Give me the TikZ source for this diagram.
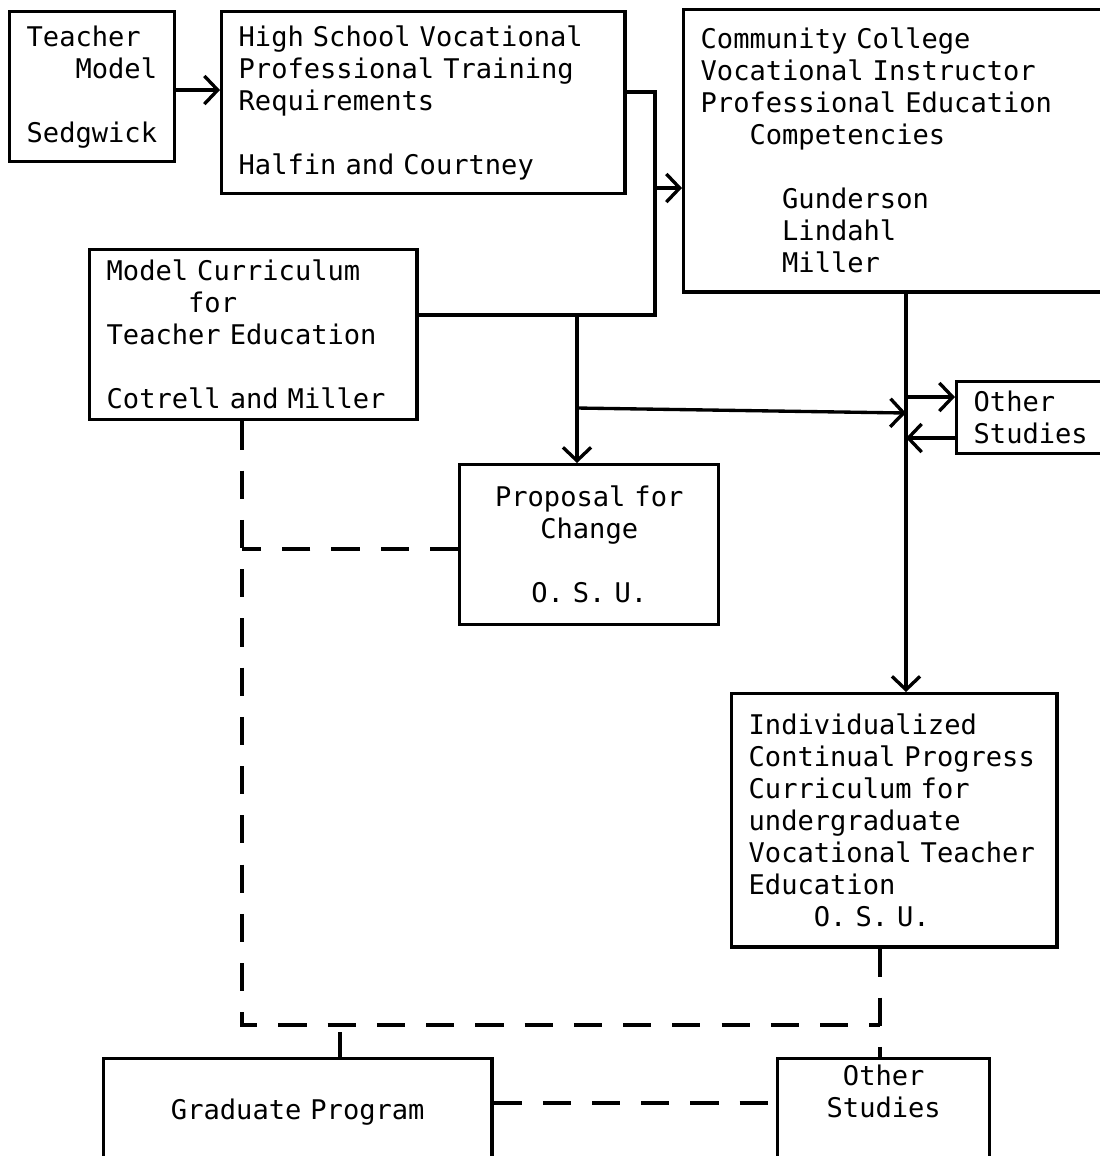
\documentclass[tikz,border=0pt]{standalone}
\usepackage{fontspec}
\usepackage{tikz}
\usetikzlibrary{calc,positioning,arrows.meta}
\newfontfamily\typew{DejaVu Sans Mono}

\tikzset{
  blk/.style={draw, line width=0.95pt, anchor=north west, inner xsep=0.17cm, inner ysep=0pt,
              align=left, font=\typew\fontsize{7.7pt}{9.1pt}\selectfont},
  ctr/.style={blk, align=center},
  lnk/.style={line width=0.95pt},
  dsh/.style={line width=0.95pt, dash pattern=on 8pt off 6pt},
  >={Straight Barb[length=3.8pt,width=8pt]}
}

\begin{document}
\begin{tikzpicture}[x=0.01cm,y=-0.01cm]
  \clip (0,0) rectangle (1100,1156);
  % boxes
  \node[blk, text width=1.31cm, minimum height=1.50cm] (teacher) at (8,10)
     {Teacher\\\hspace{3\fontcharwd\font`M}Model\\[9.1pt]Sedgwick};
  \node[blk, text width=3.69cm, minimum height=1.82cm] (hsreq) at (220,10)
     {High School Vocational\\Professional Training\\Requirements\\[9.1pt]Halfin and Courtney};
  \node[blk, text width=4.06cm, minimum height=2.82cm] (ccvi) at (682,8)
     {Community College\\Vocational Instructor\\Professional Education\\
      \hspace{3\fontcharwd\font`M}Competencies\\[9.1pt]
      \hspace{5\fontcharwd\font`M}Gunderson\\\hspace{5\fontcharwd\font`M}Lindahl\\
      \hspace{5\fontcharwd\font`M}Miller};
  \node[blk, text width=2.93cm, minimum height=1.70cm] (modelcur) at (88,248)
     {Model Curriculum\\\hspace{5\fontcharwd\font`M}for\\Teacher Education\\[9.1pt]Cotrell and Miller};
  \node[ctr, text width=2.25cm, minimum height=1.60cm] (proposal) at (458,463)
     {Proposal for\\Change\\[9.1pt]O. S. U.};
  \node[blk, text width=1.26cm, minimum height=0.72cm] (othstud) at (955,380)
     {Other\\Studies};
  \node[blk, text width=2.91cm, minimum height=2.53cm] (icpc) at (730,692)
     {Individualized\\Continual Progress\\Curriculum for\\undergraduate\\
      Vocational Teacher\\Education\\\hspace{4\fontcharwd\font`M}O. S. U.};
  \node[ctr, text width=3.54cm, minimum height=1.06cm] (gradprog) at (102,1057)
     {Graduate Program};
  \node[ctr, text width=1.78cm, minimum height=1.06cm] (othstud2) at (776,1057)
     {Other\\Studies\\\strut};
  % junctions
  \coordinate (merge) at (655,315);
  \coordinate (split) at (577,315);
  \coordinate (trunk) at (906,290);
  \coordinate (drop) at (242,1025);
  \coordinate (rail) at (880,1025);
  \coordinate (tick) at (340,1032);
  % solid connectors
  \draw[lnk,->] (teacher.east |- 0,90) -- (hsreq.west |- 0,90);
  \draw[lnk] (hsreq.east |- 0,92) -| (merge) -- (merge -| modelcur.east);
  \draw[lnk,->] (merge |- 0,188) -- (ccvi.west |- 0,188);
  \draw[lnk,->] (split) -- (split |- proposal.north);
  \draw[lnk,->] (split |- 0,408) -- (trunk |- 0,413);
  \draw[lnk,->] (trunk) -- (trunk |- icpc.north);
  \draw[lnk,->] (trunk |- 0,397) -- (othstud.west |- 0,397);
  \draw[lnk,->] (othstud.west |- 0,438) -- (trunk |- 0,438);
  % dashed connectors
  \draw[dsh] (drop |- modelcur.south) -- (drop) -- (rail);
  \draw[dsh] (proposal.west |- 0,549) -- (drop |- 0,549);
  \draw[dsh] (tick) -- (tick |- gradprog.north);
  \draw[dsh] (icpc.south -| rail) -- (rail) -- (rail |- othstud2.north);
  \draw[dsh] (gradprog.east |- 0,1103) -- (othstud2.west |- 0,1103);
\end{tikzpicture}
\end{document}
